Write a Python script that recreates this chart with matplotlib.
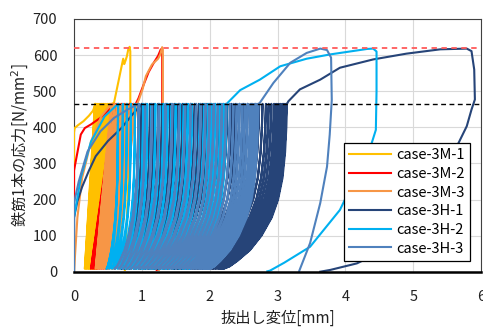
import matplotlib
matplotlib.use('Agg')
import matplotlib.pyplot as plt

plt.rcParams['font.family'] = ['Noto Sans CJK JP', 'DejaVu Sans']

# ---------------- data ----------------
x_ticks = [0, 1, 2, 3, 4, 5, 6]
y_ticks = [0, 100, 200, 300, 400, 500, 600, 700]
yield_line = 465
ult_line = 620
s_min = 8

# cycle branch template (stress levels and fraction of cycle width)
shape_s = [8, 15, 30, 60, 100, 150, 200, 260, 330, 400, 465]
shape_H = [0, 0.10, 0.22, 0.42, 0.60, 0.76, 0.86, 0.93, 0.97, 0.99, 1.0]
shape_M = [0, 0.02, 0.05, 0.11, 0.20, 0.30, 0.41, 0.54, 0.69, 0.85, 1.0]

labels = ['case-3M-1', 'case-3M-2', 'case-3M-3', 'case-3H-1', 'case-3H-2', 'case-3H-3']
colors = ['#FFC000', '#FF0000', '#F79646', '#264478', '#00B0F0', '#4F81BD']

# case-3M-1
m1_init_x = [0, 0.0, 0.01, 0.06, 0.14, 0.22, 0.28, 0.32]
m1_init_s = [0, 385, 398, 406, 417, 432, 446, 465]
m1_bot = [0.16, 0.18, 0.20, 0.22, 0.24, 0.26, 0.28, 0.30, 0.32, 0.34]
m1_top = [0.31, 0.34, 0.37, 0.40, 0.43, 0.46, 0.49, 0.52, 0.54, 0.56]
m1_fin_x = [0.59, 0.66, 0.71, 0.725, 0.74, 0.76, 0.78, 0.80, 0.82, 0.83, 0.83, 0.80, 0.75]
m1_fin_s = [468, 532, 579, 590, 575, 585, 597, 616, 623, 610, 465, 250, 5]

# case-3M-2
m2_init_x = [0, 0.0, 0.02, 0.06, 0.10, 0.16, 0.25, 0.38, 0.50, 0.60]
m2_init_s = [0, 280, 300, 340, 380, 398, 408, 425, 445, 465]
m2_bot = [0.25, 0.28, 0.31, 0.34, 0.37, 0.40, 0.43, 0.46, 0.50]
m2_top = [0.62, 0.66, 0.70, 0.74, 0.78, 0.82, 0.85, 0.88, 0.91]
m2_fin_x = [0.95, 1.02, 1.10, 1.18, 1.24, 1.28, 1.30, 1.30, 1.27, 1.22]
m2_fin_s = [480, 515, 553, 580, 598, 616, 600, 465, 250, 5]

# case-3M-3
m3_init_x = [0, 0.05, 0.12, 0.25, 0.40, 0.55]
m3_init_s = [0, 150, 260, 360, 430, 465]
m3_bot = [0.32, 0.35, 0.38, 0.41, 0.44, 0.47, 0.50, 0.53, 0.56, 0.58, 0.60]
m3_top = [0.56, 0.60, 0.64, 0.68, 0.72, 0.76, 0.80, 0.84, 0.88, 0.91, 0.93]
m3_fin_x = [0.96, 1.01, 1.06, 1.10, 1.15, 1.20, 1.24, 1.27, 1.30, 1.31, 1.31, 1.29, 1.25]
m3_fin_s = [478, 505, 542, 556, 574, 583, 590, 601, 622, 615, 465, 300, 5]

# case-3H-1
h1_init_x = [0, 0.0, 0.05, 0.12, 0.22, 0.32, 0.50, 0.70, 0.86, 1.00]
h1_init_s = [0, 150, 195, 235, 280, 320, 362, 398, 435, 465]
h1_bot = [0.70, 0.74, 0.77, 0.81, 0.84, 0.88, 0.91, 0.95, 0.98, 1.02, 1.05, 1.09,
          1.12, 1.16, 1.19, 1.23, 1.26, 1.30, 1.33, 1.37, 1.40, 1.44, 1.47, 1.51,
          1.54, 1.58, 1.61, 1.65, 1.68, 1.72, 1.76, 1.80, 1.84, 1.88, 1.92, 1.96,
          2.00, 2.04, 2.08, 2.12, 2.15, 2.18, 2.20]
h1_top = [1.00, 1.06, 1.12, 1.18, 1.24, 1.30, 1.36, 1.42, 1.48, 1.54, 1.60, 1.66,
          1.72, 1.78, 1.84, 1.90, 1.96, 2.02, 2.08, 2.14, 2.20, 2.26, 2.32, 2.38,
          2.44, 2.50, 2.56, 2.62, 2.68, 2.73, 2.78, 2.83, 2.87, 2.91, 2.95, 2.98,
          3.01, 3.04, 3.07, 3.09, 3.11, 3.13, 3.14]
h1_fin_x = [3.16, 3.33, 3.63, 3.92, 4.41, 4.90, 5.40, 5.79, 5.86, 5.90, 5.91, 5.86,
            5.79, 5.67, 5.30, 4.90, 4.50, 4.27, 4.17, 3.78, 3.63]
h1_fin_s = [472, 505, 532, 565, 588, 604, 616, 618, 611, 560, 477, 449,
            403, 357, 250, 150, 70, 32, 23, 5, 0]

# case-3H-2
h2_init_x = [0, 0.0, 0.10, 0.25, 0.45, 0.65]
h2_init_s = [0, 150, 260, 360, 430, 465]
h2_bot = [0.48, 0.52, 0.56, 0.60, 0.64, 0.68, 0.72, 0.76, 0.80, 0.84, 0.88, 0.92,
          0.96, 1.00, 1.04, 1.08, 1.12, 1.16, 1.20, 1.25, 1.30, 1.35, 1.40, 1.45,
          1.50, 1.55, 1.60, 1.64, 1.67, 1.70]
h2_top = [0.65, 0.72, 0.78, 0.84, 0.90, 0.96, 1.02, 1.08, 1.14, 1.20, 1.26, 1.32,
          1.38, 1.44, 1.50, 1.56, 1.62, 1.68, 1.74, 1.80, 1.86, 1.92, 1.98, 2.03,
          2.08, 2.12, 2.16, 2.20, 2.23, 2.25]
h2_fin_x = [2.45, 2.74, 3.04, 3.43, 3.78, 4.10, 4.32, 4.41, 4.46, 4.46, 4.45, 4.39,
            4.20, 3.92, 3.48, 3.10, 2.89, 2.85]
h2_fin_s = [503, 532, 569, 590, 602, 611, 617, 618, 610, 500, 393, 357,
            280, 171, 69, 25, 3, 1]

# case-3H-3
h3_init_x = [0, 0.0, 0.07, 0.20, 0.39, 0.59, 0.79, 0.95]
h3_init_s = [0, 190, 250, 333, 389, 426, 449, 465]
h3_bot = [0.60, 0.66, 0.72, 0.78, 0.84, 0.90, 0.96, 1.02, 1.08, 1.14, 1.20, 1.26,
          1.32, 1.38, 1.44, 1.50, 1.56, 1.62, 1.67, 1.72, 1.76, 1.80, 1.84, 1.87,
          1.90, 1.92, 1.94, 1.96, 1.98, 2.00]
h3_top = [0.95, 1.05, 1.15, 1.25, 1.35, 1.45, 1.55, 1.64, 1.72, 1.80, 1.87, 1.94,
          2.00, 2.06, 2.12, 2.18, 2.24, 2.30, 2.35, 2.40, 2.44, 2.48, 2.52, 2.56,
          2.60, 2.63, 2.66, 2.68, 2.70, 2.72]
h3_fin_x = [2.74, 2.94, 3.19, 3.43, 3.63, 3.73, 3.79, 3.80, 3.77, 3.73, 3.63, 3.48, 3.32]
h3_fin_s = [468, 523, 579, 606, 618, 614, 593, 476, 380, 291, 190, 79, 2]


def build_path(init_x, init_s, bots, tops, fin_x, fin_s, frac):
    xs = list(init_x)
    ss = list(init_s)
    prev_top = init_x[-1]
    for b, t in zip(bots, tops):
        for s_, f in zip(reversed(shape_s), reversed(frac)):
            xs.append(b + (prev_top - b) * f)
            ss.append(s_)
        for s_, f in zip(shape_s, frac):
            xs.append(b + (t - b) * f)
            ss.append(s_)
        prev_top = t
    xs += list(fin_x)
    ss += list(fin_s)
    return xs, ss


cases = [
    (m1_init_x, m1_init_s, m1_bot, m1_top, m1_fin_x, m1_fin_s, shape_M),
    (m2_init_x, m2_init_s, m2_bot, m2_top, m2_fin_x, m2_fin_s, shape_M),
    (m3_init_x, m3_init_s, m3_bot, m3_top, m3_fin_x, m3_fin_s, shape_M),
    (h1_init_x, h1_init_s, h1_bot, h1_top, h1_fin_x, h1_fin_s, shape_H),
    (h2_init_x, h2_init_s, h2_bot, h2_top, h2_fin_x, h2_fin_s, shape_H),
    (h3_init_x, h3_init_s, h3_bot, h3_top, h3_fin_x, h3_fin_s, shape_H),
]

# ---------------- figure ----------------
fig = plt.figure(figsize=(4.83, 3.34), dpi=100)
ax = fig.add_axes([74 / 483, 1 - 271.7 / 334, 407 / 483, (271.7 - 19) / 334])

for (ix, is_, bo, to, fx, fs, fr), lab, col in zip(cases, labels, colors):
    xs, ss = build_path(ix, is_, bo, to, fx, fs, fr)
    ax.plot(xs, ss, color=col, lw=1.5, label=lab, solid_joinstyle='round', zorder=3)

ax.axhline(ult_line, color='#FF5B5B', lw=1.3, ls=(0, (3, 2.5)), zorder=4)
ax.axhline(yield_line, color='black', lw=1.0, ls=(0, (3.5, 2.5)), zorder=4)

ax.set_xlim(0, 6)
ax.set_ylim(0, 700)
ax.set_xticks(x_ticks)
ax.set_yticks(y_ticks)
ax.tick_params(length=0, labelsize=10.5, colors='#222222')
ax.tick_params(axis='x', pad=13)
ax.tick_params(axis='y', pad=12)
ax.grid(True, color='#D9D9D9', lw=0.8, zorder=0)
ax.set_axisbelow(True)
for side in ['top', 'right', 'left']:
    ax.spines[side].set_color('#404040')
    ax.spines[side].set_linewidth(0.8)
ax.spines['bottom'].set_color('black')
ax.spines['bottom'].set_linewidth(1.8)
ax.spines['bottom'].set_zorder(5)

ax.set_xlabel('抜出し変位[mm]', fontsize=11, labelpad=4, color='#222222')
ax.set_ylabel('鉄筋1本の応力[N/mm$^2$]', fontsize=11, labelpad=1, color='#222222')

leg = ax.legend(loc='upper right', bbox_to_anchor=(0.973, 0.509), fontsize=10.5,
                handlelength=2.9, handletextpad=0.35, labelspacing=0.32,
                borderpad=0.35, fancybox=False, framealpha=1, edgecolor='black',
                borderaxespad=0)
leg.get_frame().set_linewidth(0.9)
leg.set_zorder(6)

fig.savefig('out.png', dpi=100)
